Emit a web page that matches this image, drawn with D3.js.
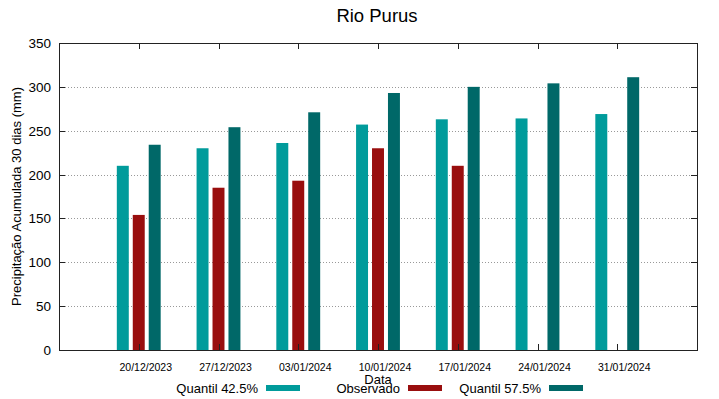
<!DOCTYPE html>
<html>
<head>
<meta charset="utf-8">
<script src="https://cdn.jsdelivr.net/npm/d3@7"></script>
<style>
body { margin: 0; background: #fff; }
text { font-family: "Liberation Sans", Arial, sans-serif; fill: #000; }
</style>
</head>
<body>
<script>
var dates = ["20/12/2023", "27/12/2023", "03/01/2024", "10/01/2024", "17/01/2024", "24/01/2024", "31/01/2024"];
var quantil425 = [210, 230, 236, 257, 263, 264, 269];
var observado = [154, 185, 193, 230, 210, null, null];
var quantil575 = [234, 254, 271, 293, 300, 304, 311];
var yTicks = [0, 50, 100, 150, 200, 250, 300, 350];

var series = [
    {name: "Quantil 42.5%", values: quantil425, color: "#009b9b", off: -0.2},
    {name: "Observado", values: observado, color: "#990e0e", off: 0},
    {name: "Quantil 57.5%", values: quantil575, color: "#006868", off: 0.2}
];

var w = 719, h = 399;
var pLeft = 59, pRight = 697, pTop = 43, pBottom = 350;

var svg = d3.select("body").append("svg")
    .attr("width", w)
    .attr("height", h);

var x = d3.scaleLinear().domain([-1, 7]).range([pLeft, pRight]);
var y = d3.scaleLinear().domain([0, 350]).range([pBottom, pTop]);
var bw = x(0.15) - x(0);

// grid
svg.selectAll("line.grid")
    .data(yTicks.filter(function (d) { return d > 0 && d < 350; }))
    .enter().append("line")
    .attr("class", "grid")
    .attr("x1", pLeft).attr("x2", pRight)
    .attr("y1", function (d) { return Math.round(y(d)) + 0.5; })
    .attr("y2", function (d) { return Math.round(y(d)) + 0.5; })
    .attr("stroke", "#999")
    .attr("stroke-width", 1)
    .attr("stroke-dasharray", "1,2");

// bars
series.forEach(function (s) {
    svg.selectAll(null)
        .data(s.values.map(function (v, i) { return {v: v, i: i}; }).filter(function (d) { return d.v != null; }))
        .enter().append("rect")
        .attr("x", function (d) { return x(d.i + s.off) - bw / 2; })
        .attr("y", function (d) { return y(d.v); })
        .attr("width", bw)
        .attr("height", function (d) { return y(0) - y(d.v); })
        .attr("fill", s.color);
});

// border
svg.append("rect")
    .attr("x", pLeft + 0.5).attr("y", pTop + 0.5)
    .attr("width", pRight - pLeft).attr("height", pBottom - pTop)
    .attr("fill", "none")
    .attr("stroke", "#222")
    .attr("stroke-width", 1);

// y axis ticks + labels
yTicks.forEach(function (t) {
    var yy = Math.round(y(t)) + 0.5;
    svg.append("line").attr("x1", pLeft).attr("x2", pLeft + 6).attr("y1", yy).attr("y2", yy).attr("stroke", "#222");
    svg.append("line").attr("x1", pRight - 6).attr("x2", pRight).attr("y1", yy).attr("y2", yy).attr("stroke", "#222");
    svg.append("text")
        .attr("x", pLeft - 8).attr("y", y(t) + 5)
        .attr("text-anchor", "end")
        .style("font-size", "13.5px")
        .text(t);
});

// x ticks + labels
dates.forEach(function (d, i) {
    var xx = Math.round(x(i)) + 0.5;
    svg.append("line").attr("x1", xx).attr("x2", xx).attr("y1", pBottom).attr("y2", pBottom - 6).attr("stroke", "#222");
    svg.append("line").attr("x1", xx).attr("x2", xx).attr("y1", pTop).attr("y2", pTop + 6).attr("stroke", "#222");
    svg.append("text")
        .attr("x", x(i) + 7).attr("y", 371)
        .attr("text-anchor", "middle")
        .style("font-size", "10.5px")
        .text(d);
});

// titles
svg.append("text")
    .attr("x", 377).attr("y", 22)
    .attr("text-anchor", "middle")
    .style("font-size", "18.5px")
    .text("Rio Purus");

svg.append("text")
    .attr("transform", "translate(21," + ((pTop + pBottom) / 2) + ") rotate(-90)")
    .attr("text-anchor", "middle")
    .style("font-size", "13px")
    .text("Precipitação Acumulada 30 dias (mm)");

svg.append("text")
    .attr("x", 378).attr("y", 384)
    .attr("text-anchor", "middle")
    .style("font-size", "13px")
    .text("Data");

// legend
var legX = [258, 400, 541];
series.forEach(function (s, i) {
    svg.append("text")
        .attr("x", legX[i]).attr("y", 393)
        .attr("text-anchor", "end")
        .style("font-size", "13px")
        .text(s.name);
    svg.append("rect")
        .attr("x", legX[i] + 8).attr("y", 385)
        .attr("width", 34).attr("height", 6)
        .attr("fill", s.color);
});
</script>
</body>
</html>
